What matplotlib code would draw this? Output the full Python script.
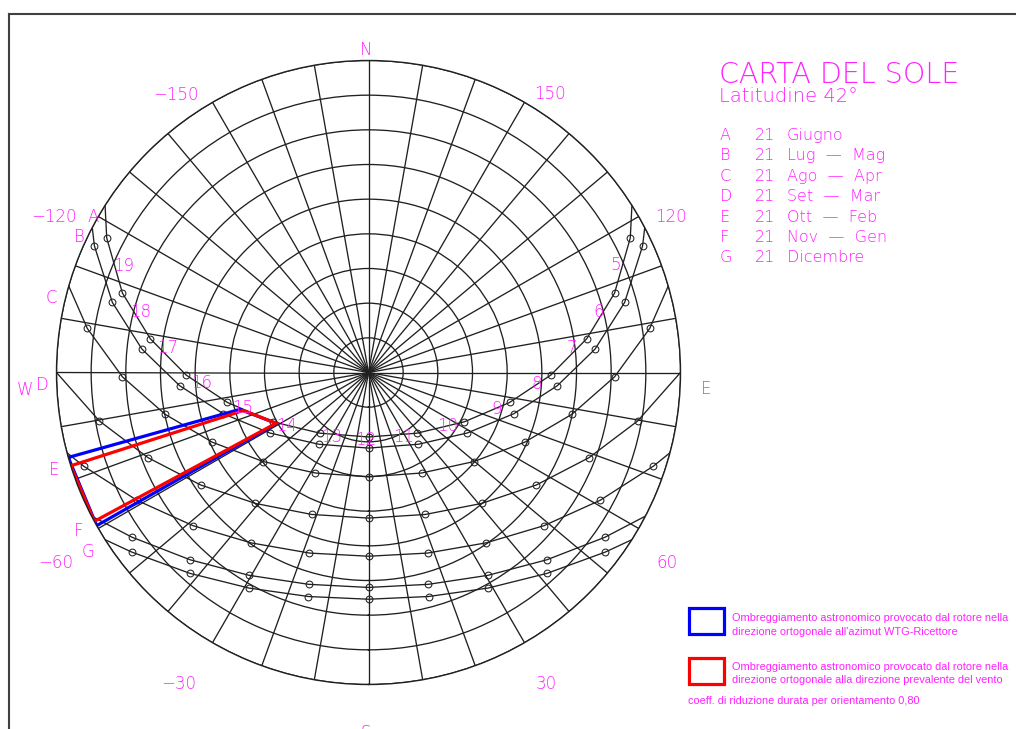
import numpy as np
import matplotlib
matplotlib.use('Agg')
import matplotlib.pyplot as plt
from matplotlib.patches import Rectangle
from matplotlib.lines import Line2D

# sun paths, latitude 42 (azimuth from south, east positive; altitude in degrees)
path_names = ['A', 'B', 'C', 'D', 'E', 'F', 'G']
path_dates = ['Giugno', 'Lug  —  Mag', 'Ago  —  Apr', 'Set  —  Mar', 'Ott  —  Feb', 'Nov  —  Gen', 'Dicembre']

hours_A = [5, 6, 7, 8, 9, 10, 11, 12, 13, 14, 15, 16, 17, 18, 19]
az_A = [117.2, 107.9, 98.8, 89.2, 78.0, 62.8, 38.6, 0.0, -38.6, -62.8, -78.0, -89.2, -98.8, -107.9, -117.2]
alt_A = [5.1, 15.4, 26.3, 37.4, 48.4, 58.9, 67.6, 71.4, 67.6, 58.9, 48.4, 37.4, 26.3, 15.4, 5.1]

hours_B = [5, 6, 7, 8, 9, 10, 11, 12, 13, 14, 15, 16, 17, 18, 19]
az_B = [114.8, 105.3, 95.9, 86.0, 74.2, 58.5, 34.8, 0.0, -34.8, -58.5, -74.2, -86.0, -95.9, -105.3, -114.8]
alt_B = [2.9, 13.4, 24.3, 35.4, 46.4, 56.6, 64.8, 68.2, 64.8, 56.6, 46.4, 35.4, 24.3, 13.4, 2.9]

hours_C = [6, 7, 8, 9, 10, 11, 12, 13, 14, 15, 16, 17, 18]
az_C = [98.9, 89.0, 78.4, 65.9, 49.8, 27.9, 0.0, -27.9, -49.8, -65.9, -78.4, -89.0, -98.9]
alt_C = [7.9, 19.0, 30.1, 40.7, 50.2, 57.2, 59.9, 57.2, 50.2, 40.7, 30.1, 19.0, 7.9]

hours_D = [7, 8, 9, 10, 11, 12, 13, 14, 15, 16, 17]
az_D = [79.8, 68.9, 56.2, 40.8, 21.8, 0.0, -21.8, -40.8, -56.2, -68.9, -79.8]
alt_D = [11.1, 21.8, 31.7, 40.1, 45.9, 48.0, 45.9, 40.1, 31.7, 21.8, 11.1]

hours_E = [7, 8, 9, 10, 11, 12, 13, 14, 15, 16, 17]
az_E = [71.8, 61.1, 48.9, 34.6, 18.1, 0.0, -18.1, -34.6, -48.9, -61.1, -71.8]
alt_E = [3.5, 13.7, 22.8, 30.3, 35.2, 37.0, 35.2, 30.3, 22.8, 13.7, 3.5]

hours_F = [8, 9, 10, 11, 12, 13, 14, 15, 16]
az_F = [55.1, 43.6, 30.5, 15.8, 0.0, -15.8, -30.5, -43.6, -55.1]
alt_F = [6.9, 15.4, 22.1, 26.5, 28.0, 26.5, 22.1, 15.4, 6.9]

hours_G = [8, 9, 10, 11, 12, 13, 14, 15, 16]
az_G = [52.8, 41.6, 29.0, 15.0, 0.0, -15.0, -29.0, -41.6, -52.8]
alt_G = [4.3, 12.5, 18.9, 23.1, 24.6, 23.1, 18.9, 12.5, 4.3]

# azimuth of sunrise / sunset for A..G
sunrise_az = [122.4, 117.7, 106.1, 90.0, 75.1, 62.6, 57.6]
sunset_az = [-122.4, -117.7, -106.1, -90.0, -75.1, -62.6, -57.6]

# shading sectors (azimuth, altitude)
blue_az = [-74.2, -74.0, -61.0, -60.6]
blue_alt = [0.0, 51.4, 59.7, 0.0]
red_az = [-72.6, -73.1, -61.2, -61.5]
red_alt = [0.0, 52.3, 59.6, 0.0]

hour_labels = [str(h) for h in range(5, 20)]
az_labels = ['−150', '150', '−120', '120', '−60', '60', '−30', '30']

paths = [(az_A, alt_A), (az_B, alt_B), (az_C, alt_C), (az_D, alt_D),
         (az_E, alt_E), (az_F, alt_F), (az_G, alt_G)]

MAG = '#ff22ff'
INK = '#202020'

fig = plt.figure(figsize=(10.16, 7.29), dpi=100)

def px(x, y):
    return x / 1016, 1 - y / 729

def label(x, y, s, size=12, ha='center', va='center', **kw):
    fig.text(*px(x, y), s, color=MAG, fontsize=size, fontweight='light', ha=ha, va=va, **kw)

# frame
fig.add_artist(Line2D([9 / 1016, 9 / 1016], [0, 1 - 14 / 729], transform=fig.transFigure, color='#404040', lw=1.5))
fig.add_artist(Line2D([9 / 1016, 1], [1 - 14 / 729, 1 - 14 / 729], transform=fig.transFigure, color='#404040', lw=1.5))

ax = fig.add_axes([56.5 / 1016, 44.5 / 729, 624 / 1016, 624 / 729], projection='polar')
ax.set_theta_zero_location('S')
ax.set_theta_direction(1)
ax.set_rlim(0, 90)
ax.set_thetagrids(np.arange(0, 360, 10), labels=[])
ax.set_rgrids(np.arange(10, 91, 10), labels=[])
ax.grid(True, color=INK, lw=0.95)
ax.spines['polar'].set_color(INK)
ax.spines['polar'].set_linewidth(1.0)

for (azs, alts), r_az, s_az in zip(paths, sunrise_az, sunset_az):
    th = np.radians([r_az] + azs + [s_az])
    rr = [90] + [90 - a for a in alts] + [90]
    ax.plot(th, rr, color=INK, lw=0.95)
    ax.plot(np.radians(azs), [90 - a for a in alts], 'o', ms=4.9, mfc='none', mec=INK, mew=0.75)

ax.plot(np.radians(blue_az + blue_az[:1]), [90 - a for a in blue_alt + blue_alt[:1]], color='#0000ff', lw=2.3, solid_joinstyle='miter')
ax.plot(np.radians(red_az + red_az[:1]), [90 - a for a in red_alt + red_alt[:1]], color='#ff0000', lw=2.3, solid_joinstyle='miter')
ax.set_rlim(0, 90)

# hour labels
hour_xy = [(615.7, 264), (598.3, 310.7), (571.7, 347.3), (536.7, 382.7), (496.7, 407.7),
           (447.3, 425), (403.3, 436), (366, 439.3), (331.7, 436), (286.7, 425),
           (242.7, 406.7), (201.7, 381.7), (167.3, 346.7), (140.7, 310.7), (123.3, 265)]
for (x, y), s in zip(hour_xy, hour_labels):
    label(x, y + 1, s)

# path letters
letter_xy = [(92.7, 216), (79.3, 236), (51.7, 297.3), (42.7, 384.3), (54, 469.3), (78.3, 530), (88.3, 550.7)]
for (x, y), s in zip(letter_xy, path_names):
    label(x, y + 1, s)

# azimuth labels and cardinal points
az_xy = [(175.8, 94), (549.5, 93.3), (53.8, 216), (671.3, 215.7), (56, 561.7), (667, 561.7), (178.3, 683.3), (545.8, 682.7)]
for (x, y), s in zip(az_xy, az_labels):
    label(x, y + 1, s)
for (x, y), s in zip([(366, 49), (706, 388), (366, 732), (25, 389)], ['N', 'E', 'S', 'W']):
    label(x, y + 1, s)

# title and date legend
label(719, 82.7, 'CARTA DEL SOLE', size=20.5, ha='left', va='baseline')
label(719, 101.5, 'Latitudine 42°', size=14, ha='left', va='baseline')
for i, (k, s) in enumerate(zip(path_names, path_dates)):
    yb = 140 + 20.4 * i
    label(720, yb, k, size=11.5, ha='left', va='baseline')
    label(755, yb, '21', size=11.5, ha='left', va='baseline')
    label(786.7, yb, s, size=11.5, ha='left', va='baseline')

# shading legend
for y0, col in [(608.3, '#0000ff'), (658.3, '#ff0000')]:
    x0, y1 = px(689.3, y0 + 26)
    fig.add_artist(Rectangle((x0, y1), 35 / 1016, 26 / 729, transform=fig.transFigure,
                             fill=False, edgecolor=col, lw=2.3, joinstyle='miter'))

note_kw = dict(color=MAG, fontsize=7.9, family='Liberation Sans', ha='left', va='baseline')
fig.text(*px(731.5, 620.7), 'Ombreggiamento astronomico provocato dal rotore nella', **note_kw)
fig.text(*px(731.5, 634.7), "direzione ortogonale all'azimut WTG-Ricettore", **note_kw)
fig.text(*px(731.5, 669.7), 'Ombreggiamento astronomico provocato dal rotore nella', **note_kw)
fig.text(*px(731.5, 683.3), 'direzione ortogonale alla direzione prevalente del vento', **note_kw)
fig.text(*px(688.5, 704.3), 'coeff. di riduzione durata per orientamento 0,80', **note_kw)

fig.savefig('out.png')
